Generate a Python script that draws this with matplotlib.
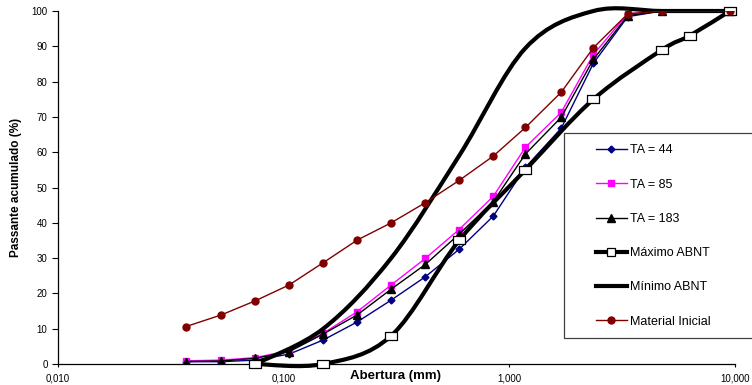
import numpy as np
import matplotlib
matplotlib.use("Agg")
import matplotlib.pyplot as plt
from matplotlib.path import Path
from matplotlib.patches import PathPatch, Rectangle
from matplotlib.lines import Line2D

plt.rcParams['font.family'] = ['Liberation Sans', 'DejaVu Sans']

# peneiras (mm)
sieves = [0.037, 0.053, 0.075, 0.106, 0.15, 0.212, 0.3, 0.425, 0.6, 0.85,
          1.18, 1.7, 2.36, 3.35, 4.75, 9.5]
ta44 = [0.65, 0.65, 1.1, 2.8, 6.8, 11.9, 18.1, 24.7, 32.5, 41.9,
        55.7, 66.8, 85.2, 98.4, 100, 100]
ta85 = [0.9, 1.1, 1.8, 3.8, 8.7, 14.8, 22.4, 29.9, 38.1, 47.5,
        61.4, 71.3, 87.7, 99.2, 100, 100]
ta183 = [0.7, 0.85, 1.6, 3.5, 8.5, 13.9, 21.2, 28.2, 36.8, 46.0,
         59.5, 69.9, 86.3, 98.7, 100, 100]
mat_ini = [10.6, 13.9, 17.9, 22.4, 28.7, 35.1, 40.0, 45.7, 52.0, 58.9,
           67.0, 77.0, 89.6, 99.2, 100, 100]

max_x = [0.075, 0.15, 0.3, 0.6, 1.18, 2.36, 4.75, 6.3, 9.5]
max_y = [0, 0, 8, 35, 55, 75, 89, 93, 100]
min_x = [0.075, 0.15, 0.3, 0.6, 1.18, 2.36, 4.75, 9.5]
min_y = [0, 10, 30, 59, 89.5, 100, 100, 100]

xticks = [0.01, 0.1, 1, 10]
xtick_labels = ['0,010', '0,100', '1,000', '10,000']
yticks = list(range(0, 101, 10))


def smooth_path(xs, ys):
    # curva suavizada tipo Excel (bezier em escala log)
    pts = np.column_stack([np.log10(xs), ys])
    n = len(pts)
    verts = [pts[0]]
    codes = [Path.MOVETO]
    for i in range(n - 1):
        p0 = pts[i - 1] if i > 0 else pts[i]
        p1 = pts[i]
        p2 = pts[i + 1]
        p3 = pts[i + 2] if i + 2 < n else pts[i + 1]
        verts += [p1 + (p2 - p0) / 6, p2 - (p3 - p1) / 6, p2]
        codes += [Path.CURVE4] * 3
    verts = np.array(verts)
    verts[:, 0] = 10 ** verts[:, 0]
    return Path(verts, codes)


fig = plt.figure(figsize=(7.52, 3.85), dpi=100)
ax = fig.add_axes([57.7 / 752, 1 - 364 / 385, (735 - 57.7) / 752, (364 - 11) / 385])
ax.set_xscale('log')

rect_marker = [(-1.5, -1), (1.5, -1), (1.5, 1), (-1.5, 1), (-1.5, -1)]

ax.plot(sieves, ta44, color='#000080', lw=1, marker='D', ms=3.5, label='TA = 44')
ax.plot(sieves, ta85, color='#FF00FF', lw=1, marker='s', ms=5, label='TA = 85')
ax.plot(sieves, ta183, color='black', lw=1, marker='^', ms=5.5, label='TA = 183')

ax.add_patch(PathPatch(smooth_path(max_x, max_y), fill=False, lw=3, ec='black',
                       clip_on=False, capstyle='round', zorder=3))
ax.plot(max_x, max_y, ls='none', marker=rect_marker, ms=8.5, mfc='white',
        mec='black', mew=0.9, clip_on=False, zorder=4)
ax.add_patch(PathPatch(smooth_path(min_x, min_y), fill=False, lw=3, ec='black',
                       clip_on=False, capstyle='round', zorder=3))

ax.plot(sieves, mat_ini, color='#800000', lw=1, marker='o', ms=5, zorder=5,
        label='Material Inicial')

ax.set_xlim(0.01, 10)
ax.set_ylim(0, 100)
ax.xaxis.set_major_locator(matplotlib.ticker.FixedLocator(xticks))
ax.xaxis.set_minor_locator(matplotlib.ticker.NullLocator())
ax.set_xticklabels(xtick_labels)
ax.set_yticks(yticks)
ax.tick_params(axis='y', length=4.3, width=0.8, pad=3, labelsize=7)
ax.tick_params(axis='x', length=2, width=0.8, pad=5, labelsize=7)
for s in ['top', 'right']:
    ax.spines[s].set_visible(False)
for s in ['left', 'bottom']:
    ax.spines[s].set_linewidth(0.9)

ax.set_ylabel('Passante acumulado (%)', fontsize=8.5, fontweight='bold', labelpad=7)
fig.text(395 / 752, 1 - 376 / 385, 'Abertura (mm)', fontsize=9.5, fontweight='bold',
         ha='center', va='center')

# legenda
fig.patches.append(Rectangle((564 / 752, 1 - 338 / 385), 0.3, (338 - 133) / 385,
                             transform=fig.transFigure, fill=True, fc='white',
                             ec='#404040', lw=0.9, zorder=6))
handles = [
    Line2D([], [], color='#000080', lw=1, marker='D', ms=3.5),
    Line2D([], [], color='#FF00FF', lw=1, marker='s', ms=5),
    Line2D([], [], color='black', lw=1, marker='^', ms=5.5),
    Line2D([], [], color='black', lw=3, marker='s', ms=6, mfc='white', mec='black', mew=0.9),
    Line2D([], [], color='black', lw=3),
    Line2D([], [], color='#800000', lw=1, marker='o', ms=5),
]
labels = ['TA = 44', 'TA = 85', 'TA = 183', 'Máximo ABNT', 'Mínimo ABNT', 'Material Inicial']
leg = fig.legend(handles, labels, loc='upper left',
                 bbox_to_anchor=(596 / 752, 1 - 144.5 / 385), frameon=False,
                 fontsize=9, borderpad=0, borderaxespad=0, handlelength=2.45,
                 handletextpad=0.3, labelspacing=1.78)
leg.set_zorder(7)

fig.savefig('out.png', dpi=100)
